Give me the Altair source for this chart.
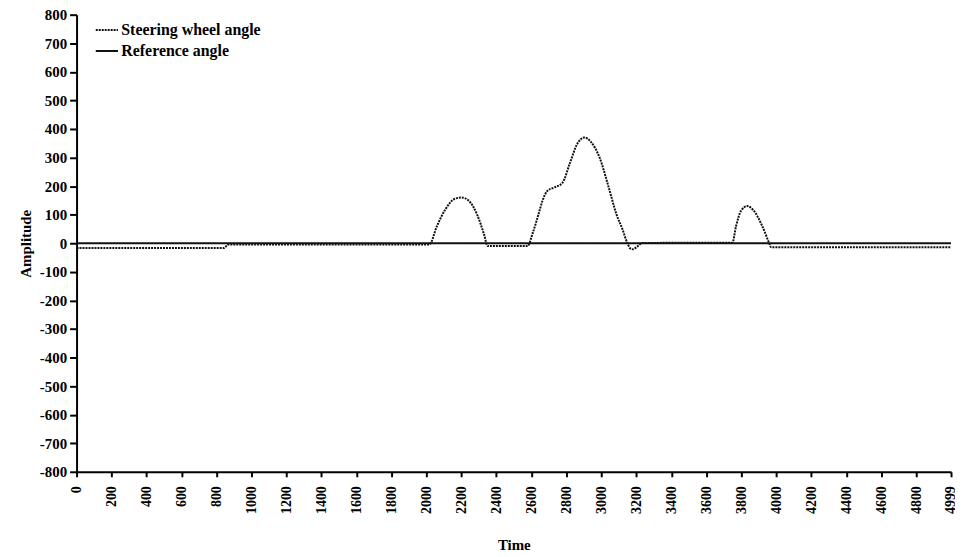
import altair as alt
import pandas as pd

# Steering wheel angle
steer_t = [0, 840, 870, 2017, 2060, 2110, 2160, 2200, 2240, 2290, 2330, 2350,
           2577, 2610, 2640, 2663, 2691, 2730, 2777, 2820, 2860, 2903, 2940, 2990,
           3040, 3086, 3120, 3149, 3165, 3180, 3205, 3234, 3749, 3770, 3800, 3834,
           3870, 3920, 3960, 3971, 4999]
steer_v = [-17, -17, -4, -4, 60, 120, 155, 160, 150, 100, 30, -10,
           -10, 40, 100, 148, 183, 195, 211, 280, 345, 370, 355, 300,
           200, 102, 50, 0, -18, -21, -12, 1, 2, 60, 115, 130,
           115, 60, 0, -14, -14]

# Reference angle
ref_t = [0, 4999]
ref_v = [0, 0]

x_ticks = [0, 200, 400, 600, 800, 1000, 1200, 1400, 1600, 1800, 2000, 2200, 2400,
           2600, 2800, 3000, 3200, 3400, 3600, 3800, 4000, 4200, 4400, 4600, 4800, 4999]
y_ticks = list(range(-800, 801, 100))

series_names = ["Steering wheel angle", "Reference angle"]

df = pd.concat([
    pd.DataFrame({"Time": steer_t, "Amplitude": steer_v, "series": series_names[0], "order": range(len(steer_t))}),
    pd.DataFrame({"Time": ref_t, "Amplitude": ref_v, "series": series_names[1], "order": range(len(ref_t))}),
])

FONT = "Liberation Serif"

chart = alt.Chart(df).mark_line(strokeWidth=2, color="#111111", interpolate="monotone").encode(
    x=alt.X("Time:Q", scale=alt.Scale(domain=[0, 4999], nice=False, zero=False),
            axis=alt.Axis(values=x_ticks, labelAngle=270, grid=False, title="Time",
                          labelExpr="toString(datum.value)", labelFontSize=14,
                          titlePadding=24, labelPadding=9, tickSize=5)),
    y=alt.Y("Amplitude:Q", scale=alt.Scale(domain=[-800, 800], nice=False),
            axis=alt.Axis(values=y_ticks, grid=False, title="Amplitude", tickSize=7, labelPadding=3,
                          labelExpr="toString(datum.value)", labelFontSize=15,
                          titlePadding=6)),
    strokeDash=alt.StrokeDash("series:N",
                              scale=alt.Scale(domain=series_names, range=[[2, 1], [1, 0]]),
                              legend=alt.Legend(title=None, orient="none", legendX=18, legendY=3,
                                                symbolType="stroke", symbolStrokeWidth=2,
                                                symbolStrokeColor="#111111", symbolSize=500,
                                                rowPadding=-7, labelOffset=2)),
    detail="series:N",
    order="order:Q",
).properties(
    width=880, height=460,
    autosize=alt.AutoSizeParams(type="none"),
    padding={"left": 69, "top": 5, "right": 4, "bottom": 82},
).configure_view(stroke=None).configure_axis(
    labelFont=FONT, titleFont=FONT, titleFontSize=15,
    labelFontWeight="bold", titleFontWeight="bold",
    labelColor="black", titleColor="black",
    domainColor="black", tickColor="black", domainWidth=2, tickWidth=2,
).configure_legend(labelFont=FONT, labelFontSize=16, labelColor="black", labelFontWeight="bold")

chart.save("out.html", embed_options={"renderer": "svg", "actions": False})
